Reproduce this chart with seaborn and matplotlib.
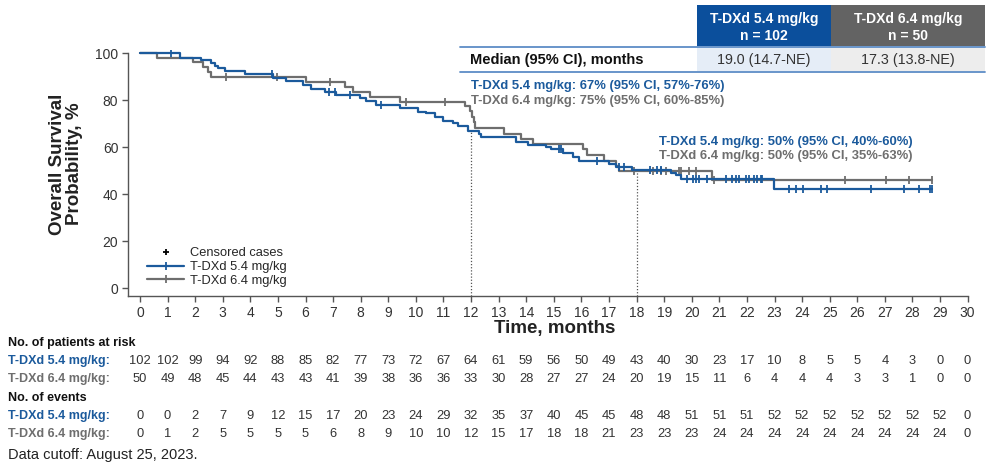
import numpy as np
import pandas as pd
import matplotlib
matplotlib.use("Agg")
import matplotlib.pyplot as plt
import matplotlib.transforms as mtransforms
from matplotlib.patches import Rectangle
from matplotlib.lines import Line2D
import seaborn as sns

# Style
sns.set_theme(style="ticks")
plt.rcParams["font.family"] = ["Liberation Sans", "DejaVu Sans"]

BLUE = "#1b5a9c"
GRAY = "#6e6e6e"
HDR_BLUE = "#0b4f9c"
HDR_GRAY = "#636363"
TXT = "#333333"

# ── Data ──────────────────────────────────────────────────────────────────────
months = list(range(0, 31))

# T-DXd 5.4 mg/kg: KM step times (months) and survival (%) after each step
blue_t = [0, 1.45, 2.23, 2.59, 2.71, 2.84, 3.08, 3.80, 4.83, 5.31, 5.91, 6.21,
          6.70, 7.12, 7.96, 8.20, 8.57, 9.41, 10.07, 10.38, 10.68, 10.98, 11.34,
          11.52, 11.90, 12.30, 12.37, 13.63, 14.06, 14.70, 14.90, 15.32, 15.68,
          15.92, 17.00, 17.25, 17.85, 19.24, 19.42, 19.62, 22.98]
blue_s = [100, 98.0, 96.9, 95.8, 94.6, 93.5, 92.3, 90.9, 89.3, 88.1, 86.6, 84.6,
          83.5, 82.1, 80.7, 79.7, 77.9, 76.5, 75.0, 74.3, 72.9, 71.2, 70.1,
          68.8, 66.9, 65.5, 64.4, 62.0, 60.9, 59.9, 59.0, 57.3, 55.9,
          54.2, 52.8, 51.4, 50.2, 49.1, 48.3, 46.4, 42.0]
blue_cens = [1.12, 4.80, 6.85, 7.06, 7.60, 8.75, 15.20, 15.26, 16.58, 17.37, 17.55,
             18.50, 18.75, 18.90, 19.84, 20.03, 20.15, 20.27, 20.57, 21.23, 21.46,
             21.59, 21.71, 21.96, 22.08, 22.26, 22.38, 22.50, 22.56, 23.53, 23.77,
             24.03, 24.67, 24.91, 26.48, 27.69, 28.23, 28.65, 28.71]

# T-DXd 6.4 mg/kg
gray_t = [0, 0.60, 1.93, 2.29, 2.47, 2.59, 6.03, 7.42, 7.72, 8.32, 9.41, 11.78,
          11.95, 12.05, 12.10, 12.15, 13.20, 13.80, 14.23, 16.07, 16.22, 16.83,
          17.25, 17.37, 20.75]
gray_s = [100, 98.0, 96.0, 94.0, 92.0, 90.0, 87.8, 85.7, 83.5, 81.4, 79.3, 77.3,
          75.2, 72.9, 70.5, 68.0, 65.6, 63.6, 61.3, 59.0, 56.5, 54.2,
          51.8, 49.6, 45.8]
gray_cens = [3.11, 4.95, 6.88, 9.65, 11.04, 17.92, 18.58, 18.88, 19.06, 19.54,
             19.60, 19.90, 20.15, 20.81, 25.55, 27.05, 27.89, 28.71]

landmarks = [12, 18]

blue_risk = [102, 102, 99, 94, 92, 88, 85, 82, 77, 73, 72, 67, 64, 61, 59, 56, 50,
             49, 43, 40, 30, 23, 17, 10, 8, 5, 5, 4, 3, 0, 0]
gray_risk = [50, 49, 48, 45, 44, 43, 43, 41, 39, 38, 36, 36, 33, 30, 28, 27, 27,
             24, 20, 19, 15, 11, 6, 4, 4, 4, 3, 3, 1, 0, 0]
blue_events = [0, 0, 2, 7, 9, 12, 15, 17, 20, 23, 24, 29, 32, 35, 37, 40, 45, 45,
               48, 48, 51, 51, 51, 52, 52, 52, 52, 52, 52, 52, 0]
gray_events = [0, 1, 2, 5, 5, 5, 5, 6, 8, 9, 10, 10, 12, 15, 17, 18, 18, 21, 23,
               23, 23, 24, 24, 24, 24, 24, 24, 24, 24, 24, 0]

arm_labels = ["T-DXd 5.4 mg/kg", "T-DXd 6.4 mg/kg"]
arm_n = ["n = 102", "n = 50"]
medians = ["19.0 (14.7-NE)", "17.3 (13.8-NE)"]
ann12 = ["T-DXd 5.4 mg/kg: 67% (95% CI, 57%-76%)", "T-DXd 6.4 mg/kg: 75% (95% CI, 60%-85%)"]
ann18 = ["T-DXd 5.4 mg/kg: 50% (95% CI, 40%-60%)", "T-DXd 6.4 mg/kg: 50% (95% CI, 35%-63%)"]

# ── Figure ────────────────────────────────────────────────────────────────────
W, H = 987, 475
fig = plt.figure(figsize=(W / 100, H / 100), dpi=100)
fig.patch.set_facecolor("white")
ax = fig.add_axes([128 / W, 1 - 296 / H, 841 / W, 246 / H])
X0, X1, Y0, Y1 = -0.434, 30.05, -3.4, 101.3


def px(x, y):
    return x / W, 1 - y / H


def step_value(t, s, q):
    idx = np.searchsorted(np.array(t), np.array(q), side="right") - 1
    return np.array(s)[idx]


for t, s, cens, color in [(gray_t, gray_s, gray_cens, GRAY), (blue_t, blue_s, blue_cens, BLUE)]:
    df = pd.DataFrame({"t": t + [max(cens)], "s": s + [s[-1]]})
    sns.lineplot(data=df, x="t", y="s", ax=ax, color=color, lw=1.6,
                 drawstyle="steps-post", estimator=None, sort=False)
    ax.plot(cens, step_value(t, s, cens), ls="none", marker="|", ms=6, mew=1.3, color=color)

# landmark dotted lines
for lm in landmarks:
    ax.plot([lm, lm], [Y0, step_value(blue_t, blue_s, [lm])[0]], ls=(0, (1, 1.5)),
            color="#555555", lw=0.9, zorder=1)

ax.set_xlim(X0, X1)
ax.set_ylim(Y0, Y1)
ax.set_xticks(months)
ax.set_yticks(range(0, 101, 20))
ax.set_xlabel("")
ax.set_ylabel("")
sns.despine(ax=ax)
ax.spines["left"].set_bounds(Y0, 100)
ax.spines["bottom"].set_bounds(X0, 30)
for sp in ["left", "bottom"]:
    ax.spines[sp].set_color("#555555")
    ax.spines[sp].set_linewidth(1.0)
ax.tick_params(axis="both", direction="out", length=4, width=1, color="#555555",
               labelsize=10, labelcolor=TXT, pad=3)

# curve annotations
ax.text(12.0, 86, ann12[0], color=BLUE, fontsize=9.4, fontweight="bold", va="center")
ax.text(12.0, 79.6, ann12[1], color=GRAY, fontsize=9.4, fontweight="bold", va="center")
ax.text(18.8, 62.1, ann18[0], color=BLUE, fontsize=9.4, fontweight="bold", va="center")
ax.text(18.8, 56.2, ann18[1], color=GRAY, fontsize=9.4, fontweight="bold", va="center")

# legend
handles = [Line2D([], [], ls="none", marker="+", ms=5, mew=1.3, color="black"),
           Line2D([], [], color=BLUE, lw=1.6, marker="|", ms=6, mew=1.3),
           Line2D([], [], color=GRAY, lw=1.6, marker="|", ms=6, mew=1.3)]
ax.legend(handles, ["Censored cases"] + arm_labels, loc="upper left",
          bbox_to_anchor=px(147, 247), bbox_transform=fig.transFigure,
          frameon=False, fontsize=9.3, handlelength=2.9, handletextpad=0.4,
          labelspacing=0.15, borderpad=0, borderaxespad=0, markerscale=1)

# axis titles
fig.text(*px(66, 164), "Overall Survival\nProbability, %", rotation=90, ha="center",
         va="center", fontsize=13.5, fontweight="bold", color="#222222", linespacing=1.05)
fig.text(*px(555, 328), "Time, months", ha="center", va="center", fontsize=13.5,
         fontweight="bold", color="#222222")

# ── Median table at top ───────────────────────────────────────────────────────
cells = [(697, 5, 134, 41, HDR_BLUE), (831, 5, 154, 41, HDR_GRAY),
         (697, 48, 134, 23, "#e5edf7"), (831, 48, 154, 23, "#ededed")]
for x, y, w, h, c in cells:
    fig.patches.append(Rectangle((x / W, 1 - (y + h) / H), w / W, h / H,
                                 transform=fig.transFigure, facecolor=c, edgecolor="none"))
for yl in [47, 72]:
    fig.lines.append(Line2D([460 / W, 985 / W], [1 - yl / H] * 2, transform=fig.transFigure,
                            color="#5d8cc6", lw=1.3))
for cx, lab, n, med in zip([764, 908], arm_labels, arm_n, medians):
    fig.text(*px(cx, 19), lab, ha="center", va="center", color="white", fontsize=10, fontweight="bold")
    fig.text(*px(cx, 36), n, ha="center", va="center", color="white", fontsize=10, fontweight="bold")
    fig.text(*px(cx, 60), med, ha="center", va="center", color=TXT, fontsize=10.3)
fig.text(*px(470, 60), "Median (95% CI), months", ha="left", va="center", color="#111111",
         fontsize=10.5, fontweight="bold")

# ── Risk table ────────────────────────────────────────────────────────────────
trans = mtransforms.blended_transform_factory(ax.transData, fig.transFigure)
fig.text(*px(8, 343), "No. of patients at risk", fontsize=9, fontweight="bold", va="center", color="#111111")
fig.text(*px(8, 398), "No. of events", fontsize=9, fontweight="bold", va="center", color="#111111")
rows = [(361, blue_risk, BLUE, arm_labels[0]), (379, gray_risk, GRAY, arm_labels[1]),
        (416, blue_events, BLUE, arm_labels[0]), (434, gray_events, GRAY, arm_labels[1])]
for y, vals, color, lab in rows:
    fig.text(*px(8, y), lab + ":", fontsize=9, fontweight="bold", va="center", color=color)
    for m, v in zip(months, vals):
        ax.text(m, 1 - y / H, str(v), transform=trans, ha="center", va="center",
                fontsize=9.3, color=TXT, clip_on=False)
fig.text(*px(8, 455), "Data cutoff: August 25, 2023.", fontsize=10.5, va="center", color="#222222")

fig.savefig("out.png", dpi=100, facecolor="white")
